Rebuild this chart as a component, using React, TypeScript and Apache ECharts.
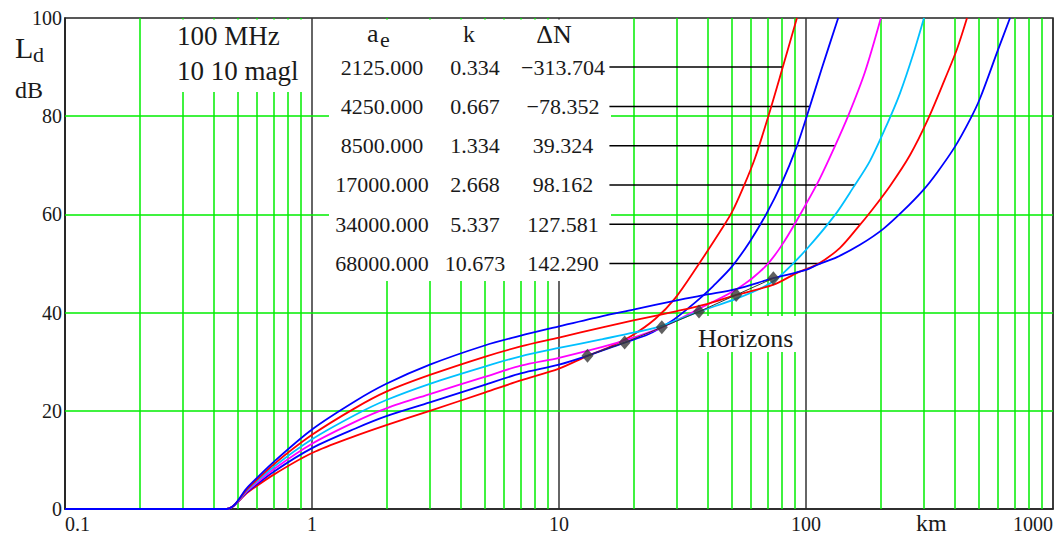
import React, { useEffect, useRef } from "react";
import * as echarts from "echarts";

const FONT = "'Liberation Serif', 'Times New Roman', serif";

// Axis ticks / grid
const xDecades = [0.1, 1, 10, 100, 1000];
const yTicks = [0, 20, 40, 60, 80, 100];
const minorGridX = [
  0.2, 0.3, 0.4, 0.5, 0.6, 0.7, 0.8, 0.9,
  2, 3, 4, 5, 6, 7, 8, 9,
  20, 30, 40, 50, 60, 70, 80, 90,
  200, 300, 400, 500, 600, 700, 800, 900,
];
const hGridY = [20, 40, 60, 80];

// Table
const aeValues = ["2125.000", "4250.000", "8500.000", "17000.000", "34000.000", "68000.000"];
const kValues = ["0.334", "0.667", "1.334", "2.668", "5.337", "10.673"];
const dNValues = ["\u2212313.704", "\u221278.352", "39.324", "98.162", "127.581", "142.290"];
const leaderDb = [90, 82, 74, 66, 58, 50];

// Curves [km, dB]
const curveK0334: [number, number][] = [
  [0.1, 0], [0.451, 0], [0.55, 3.4], [0.7, 7.0], [1, 11.4], [1.5, 14.9], [2, 17.1], [3, 20.0],
  [5, 23.7], [7, 26.2], [10, 28.6], [13.04, 31.2], [16, 33.0], [19.7, 35.3], [24.5, 38.7],
  [29.5, 42.9], [36.5, 49.6], [44.9, 56.5], [50.2, 60.5], [55.6, 65.4], [62.2, 71.5],
  [70.2, 79.8], [79.9, 89.4], [91.9, 100],
];
const curveK0667: [number, number][] = [
  [0.1, 0], [0.451, 0], [0.55, 3.6], [0.7, 7.6], [1, 12.4], [1.5, 16.4], [2, 18.9], [3, 21.7],
  [5, 25.3], [7, 27.6], [10, 29.4], [13, 31.2], [18.44, 33.9], [23, 35.6], [28.6, 38.3],
  [33, 40.7], [37.2, 42.9], [42.1, 45.4], [50, 49.3], [59.3, 54.5], [69.3, 60.2], [79.7, 66.3],
  [91.7, 73.8], [100.6, 79.9], [116, 89.8], [135, 100],
];
const curveK1334: [number, number][] = [
  [0.1, 0], [0.451, 0], [0.55, 3.8], [0.7, 8.1], [1, 13.3], [1.5, 17.8], [2, 20.5], [3, 23.4],
  [5, 26.9], [7, 29.2], [10, 30.8], [15, 33.0], [20, 34.9], [26.08, 37.0], [37, 40.8],
  [53, 44.9], [68.2, 49.3], [80.7, 54.1], [100, 62.1], [114, 67.4], [131, 73.9], [148, 80.0],
  [173, 88.9], [201, 100],
];
const curveK2668: [number, number][] = [
  [0.1, 0], [0.451, 0], [0.55, 4.0], [0.7, 8.6], [1, 14.2], [1.5, 19.2], [2, 22.2], [3, 25.5],
  [5, 29.0], [7, 31.1], [10, 32.8], [15, 34.6], [20, 35.9], [26.08, 37.3], [36.88, 40.2],
  [52, 42.8], [69.5, 45.6], [80.7, 48.0], [100.9, 53.0], [131.1, 59.9], [155, 65.4],
  [181.6, 70.9], [214.8, 78.8], [240.3, 84.7], [271.2, 92.5], [300.4, 100],
];
const curveK5337: [number, number][] = [
  [0.1, 0], [0.451, 0], [0.55, 4.2], [0.7, 9.1], [1, 15.1], [1.5, 20.6], [2, 23.9], [3, 27.3],
  [5, 31.0], [7, 33.1], [10, 34.9], [15, 37.0], [20, 38.4], [30, 40.3], [40, 41.8],
  [52.15, 43.6], [74, 45.7], [92, 48.1], [111.8, 49.9], [137.3, 53.2], [162.4, 57.4],
  [185, 60.9], [218.9, 65.8], [263.8, 72.1], [311.9, 79.4], [365.4, 87.6], [408.8, 93.7],
  [448.6, 100],
];
const curveK10673: [number, number][] = [
  [0.1, 0], [0.451, 0], [0.55, 4.5], [0.7, 9.6], [1, 16.2], [1.5, 22.0], [2, 25.5], [3, 29.4],
  [5, 33.3], [7, 35.3], [10, 37.2], [15, 39.3], [20, 40.6], [30, 42.5], [40, 43.7], [52, 44.8],
  [73.76, 47.0], [100, 48.7], [110.8, 49.7], [133.5, 51.3], [165.4, 53.8], [205, 57.0],
  [247, 60.7], [297.6, 64.9], [339.2, 68.5], [401.1, 73.8], [461.3, 79.3], [506.3, 83.6],
  [598.8, 93.5], [669.8, 100],
];

const curves = [curveK0334, curveK0667, curveK1334, curveK2668, curveK5337, curveK10673];
const curveColors = ["#ff0000", "#0000ff", "#ff00ff", "#00c0ff", "#ff0000", "#0000ff"];

// Horizons
const horizonKm = [13.04, 18.44, 26.08, 36.88, 52.15, 73.76];
const horizonDb = [31.2, 33.9, 37.0, 40.2, 43.6, 47.0];

const leaderStartKm = 16;

// Layout (pixels)
const G_LEFT = 65;
const G_TOP = 18;
const G_RIGHT = 1053;
const G_BOTTOM = 509;
const DECADE = (G_RIGHT - G_LEFT) / 4;
const yPix = (v: number) => G_TOP + ((100 - v) * (G_BOTTOM - G_TOP)) / 100;
const xPix = (km: number) => G_LEFT + (Math.log10(km) + 1) * DECADE;
const pxToKm = (px: number) => Math.pow(10, (px - G_LEFT) / DECADE - 1);
const pyToDb = (py: number) => ((G_BOTTOM - py) * 100) / (G_BOTTOM - G_TOP);

// white label boxes (pixels)
const boxes = [
  { x0: 155, x1: 309, y0: 19.5, y1: 92 },
  { x0: 329, x1: 611, y0: 19.5, y1: 281 },
  { x0: 690, x1: 800, y0: 316, y1: 352 },
];

function subtract(lo: number, hi: number, cuts: [number, number][]): [number, number][] {
  let segs: [number, number][] = [[lo, hi]];
  cuts.forEach(([a, b]) => {
    const next: [number, number][] = [];
    segs.forEach(([s, e]) => {
      if (b <= s || a >= e) {
        next.push([s, e]);
      } else {
        if (a > s) next.push([s, a]);
        if (b < e) next.push([b, e]);
      }
    });
    segs = next;
  });
  return segs;
}

function crossAt(data: [number, number][], v: number): number {
  for (let i = 1; i < data.length; i++) {
    const [x0, y0] = data[i - 1];
    const [x1, y1] = data[i];
    if (y1 > y0 && y0 <= v && y1 >= v) {
      const t = (v - y0) / (y1 - y0);
      return Math.pow(10, Math.log10(x0) + t * (Math.log10(x1) - Math.log10(x0)));
    }
  }
  return data[data.length - 1][0];
}

function txt(text: string, x: number, y: number, size: number, align = "left") {
  return {
    type: "text",
    x,
    y,
    z: 20,
    silent: true,
    style: {
      text,
      fontSize: size,
      fontFamily: FONT,
      fill: "#1a1a1a",
      align,
      verticalAlign: "middle",
    },
  };
}

function whiteRect(x: number, y: number, w: number, h: number) {
  return {
    type: "rect",
    z: 2,
    silent: true,
    shape: { x, y, width: w, height: h },
    style: { fill: "#ffffff" },
  };
}

export default function App() {
  const ref = useRef<HTMLDivElement>(null);

  useEffect(() => {
    const el = ref.current;
    if (!el) return;
    const chart = echarts.init(el, null, { renderer: "svg" });

    // green grid segments, interrupted behind the label boxes
    const gridSegs: any[] = [];
    minorGridX.forEach((x) => {
      const px = xPix(x);
      const cuts: [number, number][] = boxes
        .filter((b) => px > b.x0 && px < b.x1)
        .map((b) => [pyToDb(b.y1), pyToDb(b.y0)] as [number, number]);
      subtract(0, 100, cuts).forEach(([a, b]) => {
        gridSegs.push([{ coord: [x, a] }, { coord: [x, b] }]);
      });
    });
    hGridY.forEach((y) => {
      const py = yPix(y);
      const cuts: [number, number][] = boxes
        .filter((b) => py > b.y0 && py < b.y1)
        .map((b) => [Math.log10(pxToKm(b.x0)), Math.log10(pxToKm(b.x1))] as [number, number]);
      subtract(-1, 3, cuts).forEach(([a, b]) => {
        gridSegs.push([{ coord: [Math.pow(10, a), y] }, { coord: [Math.pow(10, b), y] }]);
      });
    });

    const series: any[] = [];
    series.push({
      type: "line",
      z: 1,
      data: [[1, 50]],
      symbol: "none",
      lineStyle: { width: 0 },
      silent: true,
      markLine: {
        silent: true,
        symbol: ["none", "none"],
        label: { show: false },
        lineStyle: { color: "#00ee00", width: 1.5, type: "solid" },
        data: gridSegs,
      },
    });

    curves.forEach((c, i) => {
      series.push({
        type: "line",
        z: 8,
        data: c,
        symbol: "none",
        smooth: 0.3,
        clip: true,
        lineStyle: { color: curveColors[i], width: 1.8 },
        silent: true,
      });
    });

    // leader lines
    leaderDb.forEach((v, i) => {
      const xe = crossAt(curves[i], v);
      series.push({
        type: "line",
        z: 7,
        data: [
          [leaderStartKm, v],
          [xe, v],
        ],
        symbol: "none",
        lineStyle: { color: "#000000", width: 1.5 },
        silent: true,
      });
    });

    // horizon locus + markers
    const hz = horizonKm.map((x, i) => [x, horizonDb[i]]);
    series.push({
      type: "line",
      z: 9,
      data: hz,
      symbol: "none",
      lineStyle: { color: "#333333", width: 1 },
      silent: true,
    });
    series.push({
      type: "scatter",
      z: 10,
      data: hz,
      symbol: "diamond",
      symbolSize: [12, 14],
      itemStyle: { color: "#383838" },
      silent: true,
    });

    const graphic: any[] = [
      ...boxes.map((b) => whiteRect(b.x0, b.y0, b.x1 - b.x0, b.y1 - b.y0)),
      txt("L", 15, 47, 30),
      txt("d", 33, 54.6, 22),
      txt("dB", 15, 90, 24),
      txt("100 MHz", 177, 36, 27),
      txt("10 10 magl", 177, 71, 27),
      txt("a", 367, 33, 26),
      txt("e", 380, 39.5, 22),
      txt("k", 469, 34, 24, "center"),
      txt("\u0394N", 554, 34, 26, "center"),
      txt("Horizons", 698, 338, 26),
      txt("km", 916, 523, 24),
    ];
    leaderDb.forEach((v, i) => {
      const y = yPix(v);
      graphic.push(txt(aeValues[i], 382, y, 22, "center"));
      graphic.push(txt(kValues[i], 475, y, 22, "center"));
      graphic.push(txt(dNValues[i], 563, y, 22, "center"));
    });

    chart.setOption({
      animation: false,
      backgroundColor: "#ffffff",
      grid: {
        left: G_LEFT,
        top: G_TOP,
        right: 1057 - G_RIGHT,
        bottom: 537 - G_BOTTOM,
        show: true,
        borderColor: "#222222",
        borderWidth: 1.5,
        backgroundColor: "transparent",
      },
      xAxis: {
        type: "log",
        logBase: 10,
        min: xDecades[0],
        max: xDecades[xDecades.length - 1],
        splitNumber: 4,
        axisLine: { show: true, lineStyle: { color: "#222222", width: 1.5 } },
        axisTick: { show: false },
        axisLabel: {
          show: true,
          margin: 5,
          fontSize: 20,
          fontFamily: FONT,
          color: "#1a1a1a",
          alignMinLabel: "left",
          alignMaxLabel: "right",
          formatter: (v: number) => String(Number(v.toPrecision(6))),
        },
        splitLine: { show: true, lineStyle: { color: "#333333", width: 1.5 } },
      },
      yAxis: {
        type: "value",
        min: yTicks[0],
        max: yTicks[yTicks.length - 1],
        interval: 20,
        axisLine: { show: true, lineStyle: { color: "#222222", width: 1.5 } },
        axisTick: { show: false },
        axisLabel: {
          margin: 3,
          fontSize: 20,
          fontFamily: FONT,
          color: "#1a1a1a",
        },
        splitLine: { show: false },
      },
      series,
      graphic,
    });

    return () => chart.dispose();
  }, []);

  return (
    <div
      ref={ref}
      style={{ position: "fixed", left: 0, top: 0, width: 1057, height: 537, background: "#fff" }}
    />
  );
}
